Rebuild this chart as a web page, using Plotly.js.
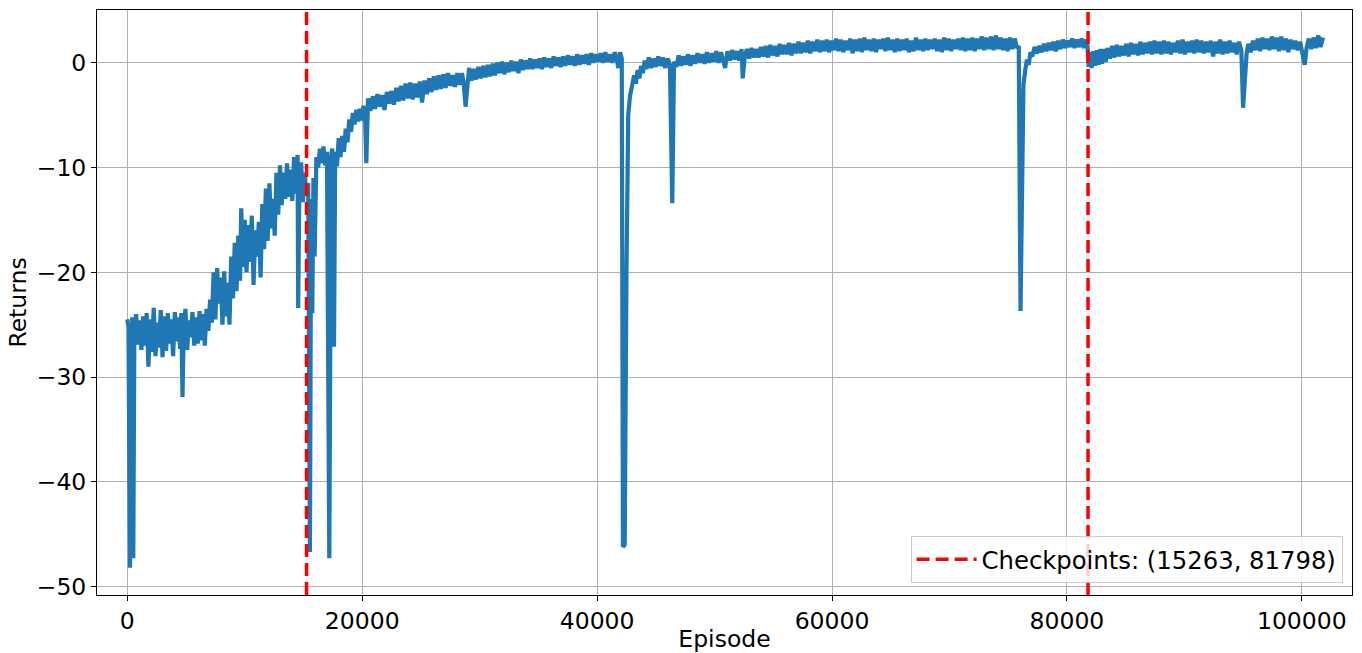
<!DOCTYPE html>
<html>
<head>
<meta charset="utf-8">
<script src="https://cdn.plot.ly/plotly-3.0.1.min.js"></script>
<style>html,body{margin:0;padding:0;background:#fff;}#chart{width:1362px;height:653px;}</style>
</head>
<body>
<div id="chart"></div>
<script>
// Episode numbers (x)
const episodes = [
0,100,230,330,420,510,600,750,900,1050,
1200,1350,1500,1650,1800,1950,2100,2250,2400,2550,
2700,2850,3000,3150,3300,3450,3600,3750,3900,4050,
4200,4350,4500,4600,4700,4800,4950,5100,5250,5400,
5550,5700,5850,6000,6150,6300,6450,6600,6750,6900,
7050,7200,7350,7500,7650,7800,7950,8100,8250,8400,
8550,8700,8850,9000,9150,9300,9450,9600,9700,9850,
10000,10150,10300,10450,10600,10750,10900,11050,11200,11350,
11500,11650,11800,11950,12100,12250,12400,12550,12700,12850,
13000,13150,13300,13450,13600,13750,13900,14050,14200,14350,
14500,14550,14650,14800,14950,15100,15250,15400,15550,15650,
15750,15850,15950,16100,16250,16400,16550,16700,16850,17000,
17200,17350,17450,17600,17700,17850,18000,18150,18300,18450,
18600,18750,18900,19050,19200,19350,19500,19650,19800,19950,
20100,20250,20350,
20500,20700,20900,21100,21300,21500,21700,21900,22100,22300,
22500,22700,22900,23100,23300,23500,23700,23900,24100,24300,
24500,24700,24900,25100,25300,25500,25700,25900,26100,26300,
26500,26700,26900,27100,27300,27500,27700,27900,28100,28300,
28500,28650,28800,28950,29100,29300,29500,29700,29900,30100,
30300,30500,30700,30900,31100,31300,31500,31700,31900,32100,
32300,32500,32700,32900,33100,33300,33500,33700,33900,34100,
34300,34500,34700,34900,35100,35300,35500,35700,35900,36100,
36300,36500,36700,36900,37100,37300,37500,37700,37900,38100,
38300,38500,38700,38900,39100,39300,39500,39700,39900,40100,
40300,40500,40700,40900,41100,41300,41500,41700,41800,41950,
42100,42200,42350,42500,42580,42650,42800,43000,43150,43300,
43450,43600,43750,43900,44050,44200,44400,44600,44800,45000,
45200,45400,45600,45800,46000,46200,46400,46550,46750,46950,
47150,47350,47550,47750,47950,48150,48350,48550,48750,48950,
49150,49350,49550,49750,49950,50150,50350,50550,50750,50900,
51100,51300,51500,51700,51900,52100,52300,52400,52550,52750,
52950,53150,53350,53550,53750,53950,54150,54350,54550,54750,
54950,55150,55350,55550,55750,55950,56150,56350,56550,56750,
56950,57150,57350,57550,57750,57950,58150,58350,58550,58750,
58950,59150,59350,59550,59750,59950,60150,60350,60550,60750,
60950,61150,61350,61550,61750,61950,62150,62350,62550,62750,
62950,63150,63350,63550,63750,63950,64150,64350,64550,64750,
64950,65150,65350,65550,65750,65950,66150,66350,66550,66750,
66950,67150,67350,67550,67750,67950,68150,68350,68550,68750,
68950,69150,69350,69550,69750,69950,70150,70350,70550,70750,
70950,71150,71350,71550,71750,71950,72150,72350,72550,72750,
72950,73150,73350,73550,73750,73950,74150,74350,74550,74750,
74950,75150,75350,75550,75750,75900,76050,76200,76300,76450,
76600,76750,76900,77050,77250,77450,77650,77850,78050,78250,
78450,78650,78850,79050,79250,79450,79650,79850,80050,80250,
80450,80650,80850,81050,81250,81450,81650,81750,81850,81950,
82100,82250,82400,82550,82700,82850,83000,83150,83300,83450,
83650,83850,84050,84250,84450,84650,84850,85050,85250,85450,
85650,85850,86050,86250,86450,86650,86850,87050,87250,87450,
87650,87850,88050,88250,88450,88650,88850,89050,89250,89450,
89650,89850,90050,90250,90450,90650,90850,91050,91250,91450,
91650,91850,92050,92250,92450,92650,92850,93050,93250,93450,
93650,93850,94050,94250,94450,94650,94850,95000,95150,95300,
95450,95650,95850,96050,96250,96450,96650,96850,97050,97250,
97450,97650,97850,98050,98250,98450,98650,98850,99050,99250,
99450,99650,99850,100050,100250,100400,100600,100800,101000,101200,
101400,101600,101800
];
// Returns (y)
const returns = [
-24.5,-25.2,-48.2,-26.5,-24.3,-47.3,-25.8,-24.0,-26.9,-24.6,
-27.4,-24.2,-27.0,-23.9,-29.0,-24.5,-27.6,-23.4,-28.0,-24.8,
-27.2,-23.6,-28.1,-24.2,-27.5,-23.9,-26.8,-24.5,-28.0,-23.8,
-26.6,-24.3,-27.3,-23.9,-31.9,-25.5,-23.5,-27.4,-24.6,-26.2,
-23.8,-27.0,-24.3,-26.8,-23.7,-26.5,-24.0,-27.0,-23.5,-25.6,
-22.6,-24.8,-20.0,-24.5,-19.6,-23.0,-20.5,-25.0,-19.9,-24.2,
-21.0,-25.0,-18.5,-22.5,-17.2,-21.8,-16.5,-20.8,-13.9,-19.5,
-15.0,-20.0,-15.5,-19.0,-14.6,-21.2,-16.0,-18.5,-15.2,-20.5,
-13.5,-17.8,-12.0,-17.0,-11.5,-15.8,-13.0,-16.5,-10.5,-14.5,
-9.8,-13.6,-10.5,-13.0,-9.6,-12.8,-10.2,-13.2,-9.0,-12.5,
-8.8,-23.4,-12.0,-9.5,-13.3,-10.5,-12.5,-11.5,-46.7,-13.0,
-23.9,-11.0,-18.5,-9.0,-10.0,-8.2,-9.6,-8.0,-9.8,-8.5,
-47.3,-9.0,-8.2,-27.1,-8.5,-9.9,-7.2,-9.0,-7.0,-8.5,
-6.3,-7.6,-5.4,-6.6,-4.8,-5.9,-4.5,-5.6,-4.4,-5.5,
-4.1,-5.3,-9.6,
-3.4,-4.6,-3.2,-4.4,-3.0,-4.2,-3.1,-4.5,-2.8,-3.9,
-2.7,-4.0,-2.4,-3.7,-2.2,-3.6,-2.0,-3.4,-1.9,-3.5,
-2.0,-3.3,-1.8,-3.8,-1.7,-3.0,-1.5,-2.8,-1.3,-2.6,
-1.2,-2.5,-1.1,-2.4,-1.0,-2.2,-1.2,-2.3,-1.0,-2.1,
-1.0,-2.0,-4.2,-1.6,-0.5,-1.7,-0.6,-1.6,-0.4,-1.5,
-0.3,-1.4,-0.2,-1.3,-0.1,-1.2,0.0,-1.0,0.1,-1.1,
0.0,-0.9,0.2,-0.8,0.1,-1.0,0.3,-0.7,0.2,-0.6,
0.4,-0.6,0.3,-0.5,0.4,-0.6,0.5,-0.4,0.4,-0.5,
0.6,-0.3,0.5,-0.4,0.6,-0.3,0.7,-0.2,0.6,-0.3,
0.8,-0.2,0.7,-0.1,0.8,-0.2,0.9,0.0,0.8,0.1,
0.9,0.0,1.0,0.1,0.8,0.0,1.0,0.2,-0.5,1.0,
0.4,-46.2,-46.0,-20.0,-9.4,-5.0,-3.2,-2.0,-1.2,-2.0,
-0.7,-1.5,-0.3,-1.0,0.2,-0.6,0.5,-0.5,0.4,-0.4,
0.6,-0.3,0.5,-0.5,0.4,-0.2,-13.4,0.1,-0.4,0.7,
-0.3,0.6,-0.2,0.8,-0.3,0.7,-0.1,0.9,0.0,0.8,
-0.1,1.0,0.0,0.9,0.1,1.1,0.0,1.0,0.2,-0.5,
1.1,0.2,1.2,0.3,1.1,0.2,1.3,-1.5,0.4,1.3,
0.4,1.4,0.5,1.3,0.5,1.5,0.6,1.6,0.5,1.7,
0.7,1.6,0.6,1.8,0.8,1.7,0.8,1.9,0.7,1.8,
0.9,2.0,0.9,1.9,1.0,2.1,0.9,2.0,1.1,2.2,
1.0,2.1,1.1,2.2,1.0,2.1,1.2,2.3,1.1,2.2,
1.0,2.1,1.2,2.3,0.9,2.2,1.1,2.3,1.0,2.4,
1.2,2.2,1.1,2.3,1.0,2.2,1.3,2.3,1.1,2.4,
1.2,2.2,1.0,2.3,1.1,2.2,1.2,2.3,1.0,2.1,
1.1,2.4,1.2,2.2,1.1,2.3,1.2,2.2,1.3,2.3,
1.1,2.2,1.0,2.4,1.2,2.3,1.1,2.2,1.3,2.3,
1.2,2.4,1.1,2.3,1.2,2.4,1.1,2.3,1.3,2.5,
1.2,2.4,1.3,2.5,1.2,2.6,1.3,2.4,1.2,2.3,
1.1,2.4,1.3,2.3,1.4,1.6,-23.7,-5.0,-2.1,-0.7,
0.3,-0.2,1.0,0.6,1.5,0.9,1.6,1.0,1.8,1.1,
1.9,1.2,2.0,1.1,2.1,1.3,2.2,1.4,2.1,1.5,
2.3,1.4,2.2,1.5,2.3,1.4,2.2,1.6,-0.4,1.0,
-0.5,1.1,-0.3,1.2,-0.2,1.3,-0.1,1.3,0.1,1.4,
0.4,1.6,0.5,1.7,0.6,1.6,0.7,1.8,0.6,1.9,
0.8,1.8,0.7,2.0,0.8,1.9,0.9,2.0,0.8,2.1,
0.9,2.0,0.8,2.1,0.9,2.0,0.8,1.9,1.0,2.1,
0.9,2.2,0.8,2.0,1.0,2.1,0.9,2.2,1.0,2.1,
0.9,2.0,1.0,2.1,0.6,2.0,0.9,2.2,0.8,2.0,
0.9,2.1,1.0,1.9,0.8,2.0,1.2,-4.3,-0.8,0.9,
1.8,1.0,2.1,1.2,2.3,1.1,2.4,1.3,2.3,1.2,
2.5,1.3,2.4,1.1,2.5,1.2,2.3,1.0,2.2,1.3,
2.1,1.2,2.0,0.9,-0.2,1.4,2.3,1.3,2.4,1.4,
2.6,1.5,2.4
];
// Checkpoint episodes
const checkpoints = [15263, 81798];
const xTicks = [0, 20000, 40000, 60000, 80000, 100000];
const yTicks = [-50, -40, -30, -20, -10, 0];
const xRange = [-2579, 104272];
const yRange = [-50.8, 5.03];

const cpX = [], cpY = [];
checkpoints.forEach((c, i) => {
  if (i > 0) { cpX.push(null); cpY.push(null); }
  cpX.push(c, c); cpY.push(yRange[0], yRange[1]);
});

const FONT = 'DejaVu Sans, sans-serif';
const FS = 23.5;

const traces = [
  {
    x: episodes, y: returns, type: 'scatter', mode: 'lines',
    line: {color: '#1f77b4', width: 4.2, shape: 'linear'},
    showlegend: false, hoverinfo: 'skip'
  },
  {
    x: cpX, y: cpY, type: 'scatter', mode: 'lines',
    name: 'Checkpoints: (' + checkpoints.join(', ') + ')',
    line: {color: '#ff0000', width: 3.5, dash: '13px,6px'},
    hoverinfo: 'skip', connectgaps: false
  }
];

const axisCommon = {
  showgrid: true, gridcolor: '#b0b0b0', gridwidth: 1,
  zeroline: false, showline: true, linecolor: '#000000', linewidth: 1, mirror: true,
  ticks: 'outside', ticklen: 5, tickwidth: 1, tickcolor: '#000000',
  tickfont: {family: FONT, size: FS, color: '#000000'},
  tickmode: 'array', automargin: false
};

const layout = {
  width: 1362, height: 653,
  margin: {l: 97, r: 9.5, t: 10, b: 58, pad: 0},
  paper_bgcolor: '#ffffff', plot_bgcolor: '#ffffff',
  font: {family: FONT, size: FS, color: '#000000'},
  xaxis: Object.assign({}, axisCommon, {
    range: xRange, tickvals: xTicks, ticktext: xTicks.map(String),
    title: {text: 'Episode', font: {family: FONT, size: FS, color: '#000000'}, standoff: 9}
  }),
  yaxis: Object.assign({}, axisCommon, {
    range: yRange, tickvals: yTicks,
    title: {text: 'Returns', font: {family: FONT, size: FS, color: '#000000'}, standoff: 3}
  }),
  legend: {
    x: 0.9925, xanchor: 'right', y: 0.0205, yanchor: 'bottom',
    bgcolor: 'rgba(255,255,255,0.8)', bordercolor: '#cccccc', borderwidth: 1,
    itemwidth: 60,
    font: {family: FONT, size: 24.3, color: '#000000'}
  },
  showlegend: true
};

Plotly.newPlot('chart', traces, layout, {displayModeBar: false, staticPlot: true});
</script>
</body>
</html>
